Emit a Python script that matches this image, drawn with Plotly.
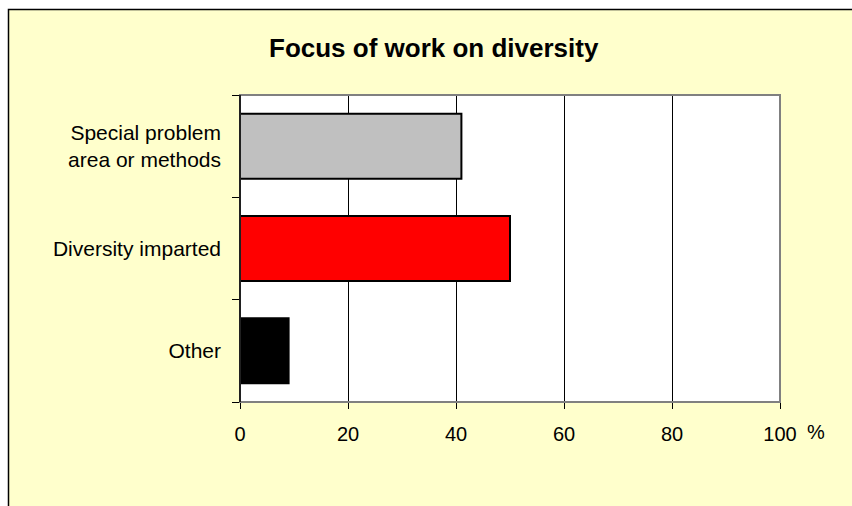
import plotly.graph_objects as go

categories = ["Other", "Diversity imparted", "Special problem<br>area or methods"]
values = [9, 50, 41]
colors = ["#000000", "#FF0000", "#C0C0C0"]
x_ticks = [0, 20, 40, 60, 80, 100]

W, H = 852, 506
L, R, T, B = 240, 72, 95, 104
pw, ph = W - L - R, H - T - B

def px_x(p):
    return (p - L) / pw

def px_y(p):
    return (H - B - p) / ph

FONT = "Liberation Sans, Arial, sans-serif"
ypos = list(range(len(categories)))

fig = go.Figure(go.Bar(
    x=values, y=ypos, orientation="h", width=0.635,
    marker=dict(color=colors, line=dict(color="#000000", width=2)),
))

fig.update_layout(
    width=W, height=H,
    margin=dict(l=L, r=R, t=T, b=B),
    paper_bgcolor="#FFFFFF", plot_bgcolor="rgba(0,0,0,0)",
    showlegend=False,
    font=dict(family=FONT, color="#000000", size=20),
    shapes=[
        dict(type="rect", xref="paper", yref="paper",
             x0=px_x(8.5), x1=px_x(W + 10), y0=px_y(9.5), y1=px_y(H + 10),
             fillcolor="#FFFFCC", line=dict(color="#000000", width=1.5), layer="below"),
        dict(type="rect", xref="paper", yref="paper",
             x0=0, x1=1, y0=0, y1=1,
             fillcolor="#FFFFFF", line=dict(width=0), layer="below"),
        dict(type="rect", xref="paper", yref="paper",
             x0=0, x1=1, y0=0, y1=1,
             fillcolor="rgba(0,0,0,0)", line=dict(color="#808080", width=2), layer="above"),
        dict(type="line", xref="paper", yref="paper",
             x0=0, x1=0, y0=0, y1=1,
             line=dict(color="#000000", width=1.5), layer="above"),
    ],
    annotations=[
        dict(text="<b>Focus of work on diversity</b>", xref="paper", yref="paper",
             x=px_x(434), y=px_y(48), xanchor="center", yanchor="middle",
             showarrow=False, font=dict(size=26, family=FONT, color="#000000")),
        dict(text="%", xref="paper", yref="paper",
             x=px_x(816), y=px_y(432), xanchor="center", yanchor="middle",
             showarrow=False, font=dict(size=20, family=FONT, color="#000000")),
    ],
)

fig.update_xaxes(
    range=[0, 100], tickvals=x_ticks, ticktext=[str(v) for v in x_ticks],
    showgrid=True, gridcolor="#000000", gridwidth=1,
    zeroline=False, showline=False,
    ticks="outside", ticklen=6, tickcolor="#000000", tickwidth=1,
    ticklabelstandoff=8,
    tickfont=dict(size=20, family=FONT, color="#000000"),
    fixedrange=True,
)
fig.update_yaxes(
    range=[-0.5, len(categories) - 0.5],
    tickvals=ypos, ticktext=categories,
    showgrid=False, zeroline=False, showline=False,
    ticks="", ticklabelstandoff=18,
    tickfont=dict(size=21, family=FONT, color="#000000"),
    minor=dict(tick0=0.5, dtick=1, ticks="outside", ticklen=7,
               tickcolor="#000000", tickwidth=1, showgrid=False),
    fixedrange=True,
)

fig.write_html("out.html")
